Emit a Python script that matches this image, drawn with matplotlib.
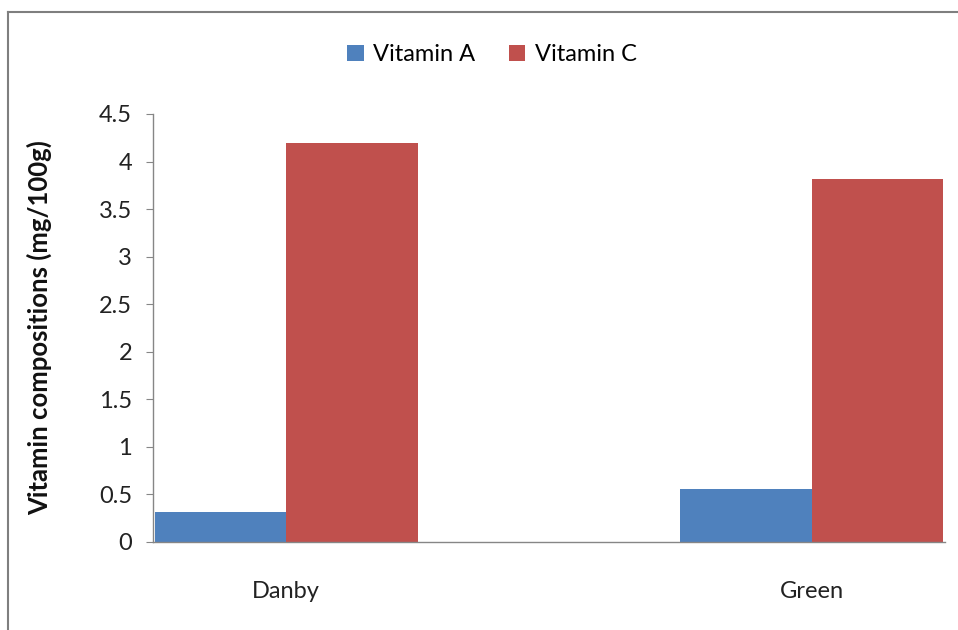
import numpy as np
import matplotlib
matplotlib.use('Agg')
import matplotlib.pyplot as plt
from matplotlib.lines import Line2D

# Данные
varieties = ['Danby', 'Green']
vitamin_a = [0.32, 0.56]
vitamin_c = [4.19, 3.82]
y_ticks = [0, 0.5, 1, 1.5, 2, 2.5, 3, 3.5, 4, 4.5]
y_tick_labels = ['0', '0.5', '1', '1.5', '2', '2.5', '3', '3.5', '4', '4.5']

plt.rcParams['font.family'] = ['Lato', 'DejaVu Sans']

fig = plt.figure(figsize=(9.58, 6.3), dpi=100)
ax = fig.add_axes([0.1597, 0.1397, 0.8267, 0.6794])

x = np.arange(len(varieties))
w = 0.25
ax.bar(x - w / 2, vitamin_a, w, color='#4F81BD', label='Vitamin A')
ax.bar(x + w / 2, vitamin_c, w, color='#C0504D', label='Vitamin C')

ax.set_xlim(-0.253, 1.253)
ax.set_ylim(0, 4.5)
ax.set_yticks(y_ticks)
ax.set_yticklabels(y_tick_labels, fontsize=17, color='#222222')
ax.set_xticks(x)
ax.set_xticklabels(varieties, fontsize=17, color='#222222')
ax.tick_params(axis='x', length=0, pad=28)
ax.tick_params(axis='y', length=5, color='#868686', pad=10)

for side in ['top', 'right']:
    ax.spines[side].set_visible(False)
for side in ['left', 'bottom']:
    ax.spines[side].set_color('#868686')
    ax.spines[side].set_linewidth(1)

ax.set_ylabel('Vitamin compositions (mg/100g)', fontsize=18.5, fontweight='bold',
              color='#111111', labelpad=34)

ax.legend(loc='center', bbox_to_anchor=(0.5 + (512 - 569) / 792, 1.138), ncol=2,
          frameon=False, fontsize=17, handlelength=0.7, handleheight=0.7,
          handletextpad=0.4, columnspacing=1.4)

# Рамка рисунка (видна слева и сверху)
fig.add_artist(Line2D([8 / 958, 8 / 958], [0, 1 - 12 / 630], color='#7f7f7f', lw=1.5))
fig.add_artist(Line2D([8 / 958, 1], [1 - 12 / 630, 1 - 12 / 630], color='#7f7f7f', lw=1.5))

fig.savefig('out.png', dpi=100)
